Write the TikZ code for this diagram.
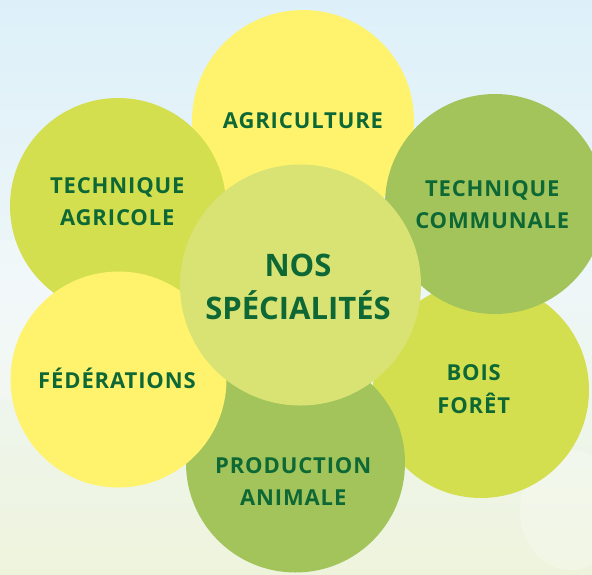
\documentclass[tikz,border=0pt]{standalone}
\usepackage{fontspec}
\setmainfont{Open Sans}
\definecolor{cyellow}{RGB}{255,243,110}
\definecolor{clime}{RGB}{211,223,78}
\definecolor{cgreen}{RGB}{163,196,91}
\definecolor{ccenter}{RGB}{217,227,115}
\definecolor{ctext}{RGB}{14,104,54}
\definecolor{bgtop}{RGB}{221,240,249}
\definecolor{bgmid}{RGB}{238,246,248}
\definecolor{bgbot}{RGB}{238,244,220}
\tikzset{
  petal/.style={circle, inner sep=0pt, draw=none},
  lbl/.style={anchor=base, inner sep=0pt, text=ctext, font=\bfseries\fontsize{22}{26}\selectfont\addfontfeature{LetterSpace=4}},
  biglbl/.style={anchor=base, inner sep=0pt, text=ctext, font=\bfseries\fontsize{31}{36}\selectfont},
}
\begin{document}
\begin{tikzpicture}[x=1pt,y=-1pt]
\useasboundingbox (0,0) rectangle (592,574);
\shade[top color=bgtop, bottom color=bgbot, middle color=bgmid] (0,0) rectangle (592,574);
\fill[white, opacity=0.25] (10,320) ellipse (60 and 80);
\fill[white, opacity=0.25] (570,510) ellipse (50 and 60);
% petals
\node[petal, fill=cyellow, minimum size=222pt] (agri) at (303,121) {};
\node[petal, fill=clime, minimum size=216pt] (bois) at (481,390) {};
\node[petal, fill=clime, minimum size=216pt] (tagri) at (118,206) {};
\node[petal, fill=cgreen, minimum size=220pt] (tcom) at (495,204) {};
\node[petal, fill=cgreen, minimum size=219pt] (prod) at (295.5,463) {};
\node[petal, fill=cyellow, minimum size=216pt] (fed) at (118.5,379.5) {};
\node[petal, fill=ccenter, minimum size=241pt] (nos) at (300.5,285) {};
% labels
\node[lbl] (l1) at (303,128.3) {AGRICULTURE};
\node[lbl] (l2a) at (117.3,193.3) {TECHNIQUE};
\node[lbl] (l2b) at (117.3,225) {AGRICOLE};
\node[lbl] (l3a) at (492.3,196.7) {TECHNIQUE};
\node[lbl] (l3b) at (492.3,228.3) {COMMUNALE};
\node[lbl] (l4a) at (473.7,380) {BOIS};
\node[lbl] (l4b) at (473.7,413.3) {FORÊT};
\node[lbl] (l5a) at (293.2,473.3) {PRODUCTION};
\node[lbl] (l5b) at (293.2,505) {ANIMALE};
\node[lbl] (l6) at (117,388.3) {FÉDÉRATIONS};
\node[biglbl] (c1) at (298,276.7) {NOS};
\node[biglbl] (c2) at (298,319.3) {SPÉCIALITÉS};
\end{tikzpicture}
\end{document}
